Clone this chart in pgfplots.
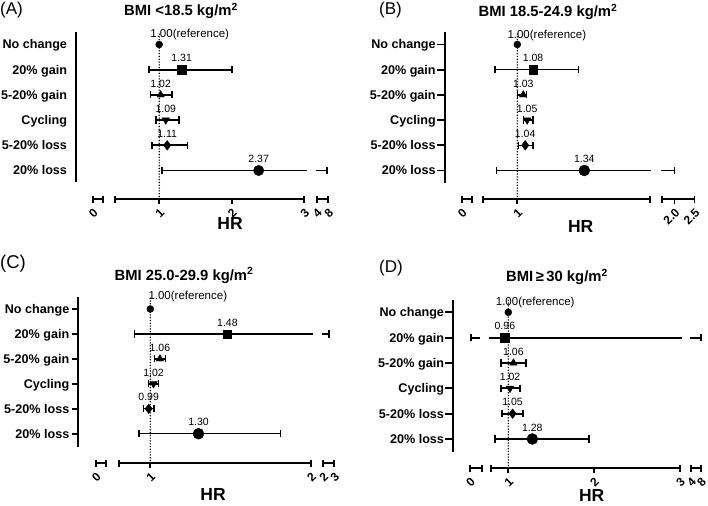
\documentclass[border=0pt]{standalone}
\usepackage{fontspec}
\setmainfont{Liberation Sans}
\usepackage{pgfplots}
\pgfplotsset{compat=1.18}

\pgfplotsset{
  forest/.style={
    x=1pt, clip=false, anchor=south west,
    axis line style={draw=none},
    tick style={draw=none},
    major tick length=0pt,
    ymax=6.9,
    ytick={1,...,6},
    yticklabels={20\% loss,5-20\% loss,Cycling,5-20\% gain,20\% gain,No change},
    yticklabel style={font=\fontsize{12.6}{15}\selectfont\bfseries, inner sep=0pt, anchor=base east, xshift=-8.8pt, yshift=-4.5pt},
    xticklabel style={font=\fontsize{12}{13}\selectfont\bfseries, inner sep=0pt, xshift=3pt, yshift=-11pt, rotate=45, anchor=east},
  },
  ci/.style={line width=#1, mark=|, mark size=3.6pt, mark options={solid, line width=#1}},
  vlab/.style={nodes near coords, point meta=explicit symbolic,
    every node near coord/.append style={font=\fontsize{10.5}{12}\selectfont, anchor=south, inner sep=0pt, yshift=7.5pt}},
  reflab/.style={nodes near coords, point meta=explicit symbolic,
    every node near coord/.append style={font=\fontsize{11.5}{13}\selectfont, anchor=base west, inner sep=0pt, xshift=#1}},
  refdot/.style={line width=1.6pt, line cap=round, dash pattern=on 0pt off 2.8pt},
}

% #1 ymin, #2 x0, #3 x1, #4 line width
\newcommand\hseg[4]{%
  \draw[line width=#4] (axis cs:#2,#1) -- (axis cs:#3,#1);
  \draw[line width=#4] ([yshift=-3.8pt]axis cs:#2,#1) -- ([yshift=3.8pt]axis cs:#2,#1);
  \draw[line width=#4] ([yshift=-3.8pt]axis cs:#3,#1) -- ([yshift=3.8pt]axis cs:#3,#1);
}
% #1 ymin, #2 x, #3 line width
\newcommand\itick[3]{%
  \draw[line width=#3] (axis cs:#2,#1) -- ([yshift=-4.5pt]axis cs:#2,#1);
}

\begin{document}
\begin{tikzpicture}
\path[use as bounding box] (0,0) rectangle (708pt,-505pt);

% ---------------- Panel A ----------------
\begin{axis}[forest, at={(76pt,-199.3pt)}, y=25.2pt, xmin=76, xmax=335, ymin=-0.143,
  xtick={92.7,159.2,231.8,304.4,316.7,328.3}, xticklabels={0,1,2,3,4,8},
  s2/.style={x filter/.expression={159.2+(x-1)*72.6}},
  s3/.style={x filter/.expression={316.7+(x-4)*2.9}},
]
\draw[line width=2pt] (axis cs:76,0.556) -- (axis cs:76,6.508);
\hseg{-0.143}{92.7}{102.7}{2pt}
\hseg{-0.143}{115}{304.4}{2pt}
\itick{-0.143}{159.2}{2pt}
\itick{-0.143}{231.8}{2pt}
\hseg{-0.143}{316.7}{328.3}{2pt}
\addplot[s2, refdot] coordinates {(1,-0.143) (1,6.49)};
% confidence intervals
\addplot[s2, ci=1.9pt] coordinates {(0.86,5) (2.00,5)};
\addplot[s2, ci=1.9pt] coordinates {(0.88,4) (1.18,4)};
\addplot[s2, ci=1.9pt] coordinates {(0.95,3) (1.27,3)};
\addplot[s2, ci=1.9pt] coordinates {(0.90,2) (1.39,2)};
\addplot[s2, ci=1.9pt, mark indices={1}] coordinates {(1.035,1) (3.03,1)};
\addplot[s3, ci=1.9pt, mark indices={2}] coordinates {(3.66,1) (7.45,1)};
% estimates
\addplot[s2, only marks, mark=*, mark size=3.5pt, reflab=-9pt,
  every node near coord/.append style={yshift=7pt}] coordinates {(1,6) [1.00(reference)]};
\addplot[s2, only marks, mark=square*, mark size=4.2pt, vlab] coordinates {(1.31,5) [1.31]};
\addplot[s2, only marks, mark=triangle*, mark size=4.3pt, vlab] coordinates {(1.02,4) [1.02]};
\addplot[s2, only marks, mark=triangle*, mark size=4.3pt, mark options={rotate=180}, vlab] coordinates {(1.09,3) [1.09]};
\addplot[s2, only marks, mark=diamond*, mark size=4.8pt, vlab] coordinates {(1.11,2) [1.11]};
\addplot[s2, only marks, mark=*, mark size=5.2pt, vlab] coordinates {(2.37,1) [2.37]};
\end{axis}

% ---------------- Panel B ----------------
\begin{axis}[forest, at={(444.7pt,-199.3pt)}, y=25.2pt, xmin=444.7, xmax=705, ymin=-0.143,
  xtick={461.7,517.3,674.5,694.6}, xticklabels={0,1,2.0,2.5},
  s2/.style={x filter/.expression={517.3+(x-1)*197}},
  s3/.style={x filter/.expression={662.3+(x-1.7)*40.6}},
]
\draw[line width=1.7pt] (axis cs:444.7,0.504) -- (axis cs:444.7,6.496);
\pgfplotsinvokeforeach{1,...,6}{\draw[line width=1.7pt] (axis cs:444.7,#1) -- ([xshift=-7.7pt]axis cs:444.7,#1);}
\hseg{-0.143}{461.7}{471.7}{1.7pt}
\hseg{-0.143}{483.3}{650}{1.7pt}
\itick{-0.143}{517.3}{1.7pt}
\hseg{-0.143}{662.3}{694.6}{1.7pt}
\itick{-0.143}{674.5}{1.7pt}
\addplot[s2, refdot] coordinates {(1,-0.143) (1,6.49)};
\addplot[s2, ci=1.4pt] coordinates {(0.887,5) (1.31,5)};
\addplot[s2, ci=1.4pt] coordinates {(1.00,4) (1.046,4)};
\addplot[s2, ci=1.4pt] coordinates {(1.03,3) (1.08,3)};
\addplot[s2, ci=1.4pt] coordinates {(1.005,2) (1.08,2)};
\addplot[s2, ci=1.4pt, mark indices={1}] coordinates {(0.895,1) (1.68,1)};
\addplot[s3, ci=1.4pt, mark indices={2}] coordinates {(1.66,1) (2.00,1)};
\addplot[s2, only marks, mark=*, mark size=3.5pt, reflab=-10pt,
  every node near coord/.append style={yshift=6pt}] coordinates {(1,6) [1.00(reference)]};
\addplot[s2, only marks, mark=square*, mark size=4.2pt, vlab] coordinates {(1.08,5) [1.08]};
\addplot[s2, only marks, mark=triangle*, mark size=4.3pt, vlab] coordinates {(1.03,4) [1.03]};
\addplot[s2, only marks, mark=triangle*, mark size=4.3pt, mark options={rotate=180}, vlab] coordinates {(1.05,3) [1.05]};
\addplot[s2, only marks, mark=diamond*, mark size=4.8pt, vlab] coordinates {(1.04,2) [1.04]};
\addplot[s2, only marks, mark=*, mark size=5.5pt, vlab] coordinates {(1.34,1) [1.34]};
\end{axis}

% ---------------- Panel C ----------------
\begin{axis}[forest, at={(78.3pt,-463.3pt)}, y=24.94pt, xmin=78.3, xmax=340, ymin=-0.187,
  xtick={95.7,150.3,311,323.3,334.3}, xticklabels={0,1,2,2,3},
  s2/.style={x filter/.expression={150.3+(x-1)*160.7}},
  s3/.style={x filter/.expression={323.3+(x-2)*11}},
]
\draw[line width=1.7pt] (axis cs:78.3,0.479) -- (axis cs:78.3,6.493);
\pgfplotsinvokeforeach{1,...,6}{\draw[line width=1.7pt] (axis cs:78.3,#1) -- ([xshift=-6.6pt]axis cs:78.3,#1);}
\hseg{-0.187}{95.7}{105.7}{1.7pt}
\hseg{-0.187}{119}{311}{1.7pt}
\itick{-0.187}{150.3}{1.7pt}
\hseg{-0.187}{323.3}{334.3}{1.7pt}
\addplot[s2, refdot] coordinates {(1,-0.187) (1,6.49)};
\addplot[s2, ci=1.4pt, mark indices={1}] coordinates {(0.90,5) (2.01,5)};
\addplot[s3, ci=1.4pt, mark indices={2}] coordinates {(1.85,5) (2.52,5)};
\addplot[s2, ci=1.4pt] coordinates {(1.025,4) (1.096,4)};
\addplot[s2, ci=1.4pt] coordinates {(0.988,3) (1.05,3)};
\addplot[s2, ci=1.4pt] coordinates {(0.956,2) (1.023,2)};
\addplot[s2, ci=1.4pt] coordinates {(0.93,1) (1.81,1)};
\addplot[s2, only marks, mark=*, mark size=3.5pt, reflab=-2pt,
  every node near coord/.append style={yshift=9pt}] coordinates {(1,6) [1.00(reference)]};
\addplot[s2, only marks, mark=square*, mark size=4.2pt, vlab] coordinates {(1.48,5) [1.48]};
\addplot[s2, only marks, mark=triangle*, mark size=4.3pt, vlab] coordinates {(1.06,4) [1.06]};
\addplot[s2, only marks, mark=triangle*, mark size=4.3pt, mark options={rotate=180}, vlab] coordinates {(1.02,3) [1.02]};
\addplot[s2, only marks, mark=diamond*, mark size=4.8pt, vlab] coordinates {(0.99,2) [0.99]};
\addplot[s2, only marks, mark=*, mark size=5.5pt, vlab] coordinates {(1.30,1) [1.30]};
\end{axis}

% ---------------- Panel D ----------------
\begin{axis}[forest, at={(453pt,-468.3pt)}, y=25.34pt, xmin=453, xmax=705, ymin=-0.156,
  xtick={470,508.3,594.1,680,691,701}, xticklabels={0,1,2,3,4,8},
  s1/.style={x filter/.expression={470+x*29.25}},
  s2/.style={x filter/.expression={508.3+(x-1)*85.8}},
  s3/.style={x filter/.expression={691+(x-4)*2.5}},
]
\draw[line width=2pt] (axis cs:453,0.499) -- (axis cs:453,6.485);
\pgfplotsinvokeforeach{1,...,6}{\draw[line width=2pt] (axis cs:453,#1) -- ([xshift=-8.3pt]axis cs:453,#1);}
\hseg{-0.156}{470}{481.7}{2pt}
\hseg{-0.156}{490.7}{680}{2pt}
\itick{-0.156}{508.3}{2pt}
\itick{-0.156}{594.1}{2pt}
\hseg{-0.156}{691}{701}{2pt}
\addplot[s2, refdot] coordinates {(1,-0.156) (1,6.49)};
\addplot[s1, ci=1.9pt, mark indices={1}] coordinates {(0.02,5) (0.34,5)};
\addplot[s2, line width=1.9pt] coordinates {(0.77,5) (3.02,5)};
\addplot[s3, ci=1.9pt, mark indices={2}] coordinates {(3.6,5) (8.0,5)};
\addplot[s2, ci=1.9pt] coordinates {(0.915,4) (1.21,4)};
\addplot[s2, ci=1.9pt] coordinates {(0.91,3) (1.135,3)};
\addplot[s2, ci=1.9pt] coordinates {(0.93,2) (1.175,2)};
\addplot[s2, ci=1.9pt] coordinates {(0.845,1) (1.94,1)};
\addplot[s2, only marks, mark=*, mark size=3.5pt, reflab=-12.6pt,
  every node near coord/.append style={yshift=7.3pt}] coordinates {(1,6) [1.00(reference)]};
\addplot[s2, only marks, mark=square*, mark size=4.2pt, vlab] coordinates {(0.96,5) [0.96]};
\addplot[s2, only marks, mark=triangle*, mark size=4.3pt, vlab] coordinates {(1.06,4) [1.06]};
\addplot[s2, only marks, mark=triangle*, mark size=4.3pt, mark options={rotate=180}, vlab] coordinates {(1.02,3) [1.02]};
\addplot[s2, only marks, mark=diamond*, mark size=4.8pt, vlab] coordinates {(1.05,2) [1.05]};
\addplot[s2, only marks, mark=*, mark size=5.5pt, vlab] coordinates {(1.28,1) [1.28]};
\end{axis}

% ---------------- titles, panel letters, axis titles ----------------
\begin{scope}[every node/.style={inner sep=0pt}]
\node[anchor=base west, font=\fontsize{17}{20}\selectfont] at (0pt,-15pt) {(A)};
\node[anchor=base west, font=\fontsize{17}{20}\selectfont] at (379pt,-15pt) {(B)};
\node[anchor=base west, font=\fontsize{18.5}{20}\selectfont] at (0pt,-268pt) {(C)};
\node[anchor=base west, font=\fontsize{17}{20}\selectfont] at (379pt,-272pt) {(D)};
\node[anchor=base, font=\fontsize{14.8}{18}\selectfont\bfseries] at (181pt,-15.5pt) {BMI <18.5 kg/m\textsuperscript{2}};
\node[anchor=base, font=\fontsize{14.8}{18}\selectfont\bfseries] at (548pt,-16.5pt) {BMI 18.5-24.9 kg/m\textsuperscript{2}};
\node[anchor=base, font=\fontsize{14.8}{18}\selectfont\bfseries] at (184pt,-280pt) {BMI 25.0-29.9 kg/m\textsuperscript{2}};
\node[anchor=base, font=\fontsize{14.8}{18}\selectfont\bfseries] at (557pt,-281.5pt) {BMI\,≥\,30 kg/m\textsuperscript{2}};
\node[font=\fontsize{17.5}{20}\selectfont\bfseries] at (230pt,-223.5pt) {HR};
\node[font=\fontsize{17.5}{20}\selectfont\bfseries] at (580.7pt,-226.5pt) {HR};
\node[font=\fontsize{17.5}{20}\selectfont\bfseries] at (213pt,-494pt) {HR};
\node[font=\fontsize{17.5}{20}\selectfont\bfseries] at (591.7pt,-495.5pt) {HR};
\end{scope}
\end{tikzpicture}
\end{document}
